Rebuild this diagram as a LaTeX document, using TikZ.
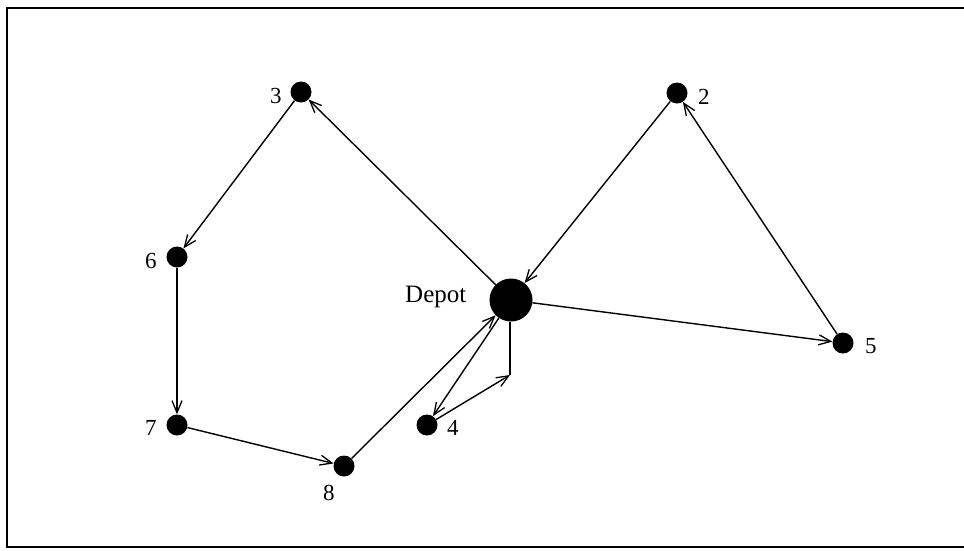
\documentclass[tikz,border=0pt]{standalone}
\usepackage{fontspec}
\setmainfont{Liberation Serif}
\usetikzlibrary{arrows.meta}
\begin{document}
\begin{tikzpicture}[x=1pt,y=-1pt,
  cust/.style={circle,fill=black,inner sep=0pt,minimum size=21pt},
  depot/.style={circle,fill=black,inner sep=0pt,minimum size=43pt},
  lbl/.style={font=\fontsize{23}{27}\selectfont,inner sep=0pt,anchor=base west},
  route/.style={line width=1.4pt,-{Straight Barb[length=12pt,width=10pt,line width=1.3pt]}},
  seg/.style={line width=1.4pt}]
\useasboundingbox (0,0) rectangle (964,550);
\draw[line width=1.5pt] (964,8) -- (7,8) -- (7,547) -- (964,547);
\node[depot] (D) at (511,300) {};
\node[cust] (n3) at (301,92) {};
\node[cust] (n2) at (677,93) {};
\node[cust] (n6) at (177,257) {};
\node[cust] (n7) at (177,425) {};
\node[cust] (n8) at (344,466) {};
\node[cust] (n4) at (427,425) {};
\node[cust] (n5) at (843,343) {};
\node[lbl,font=\fontsize{25}{29}\selectfont] (tD) at (405,302) {Depot};
\node[lbl] (t3) at (270,103) {3};
\node[lbl] (t2) at (698,104) {2};
\node[lbl] (t6) at (145,268) {6};
\node[lbl] (t7) at (145,435) {7};
\node[lbl] (t8) at (323,500) {8};
\node[lbl] (t4) at (447,435) {4};
\node[lbl] (t5) at (865,353) {5};
\coordinate (c4) at (510,375);
\draw[route] (D) -- (n3);
\draw[route] (n3) -- (n6);
\draw[route] (n6) -- (n7);
\draw[route] (n7) -- (n8);
\draw[route] (n8) -- (D);
\draw[route] (D) -- (n4);
\draw[route] (n4) -- (c4);
\draw[seg] (c4) -- (D.south -| c4);
\draw[route] (n2) -- (D);
\draw[route] (D) -- (n5);
\draw[route] (n5) -- (n2);
\end{tikzpicture}
\end{document}
